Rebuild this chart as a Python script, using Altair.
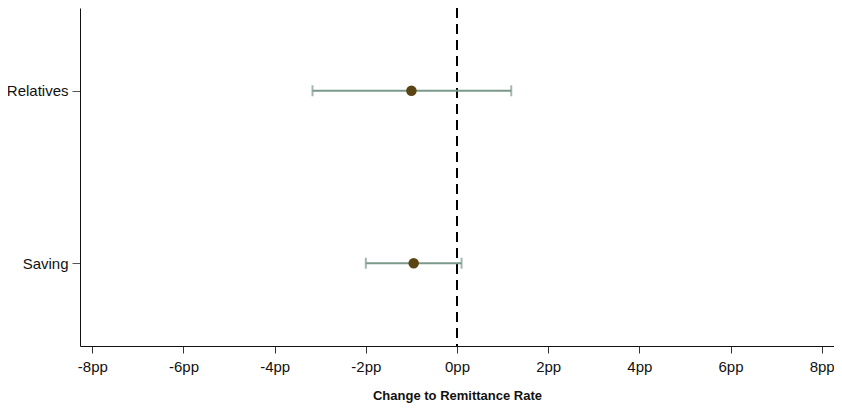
import altair as alt
import pandas as pd

categories = ["Relatives", "Saving"]
estimates = [-1.00, -0.95]
ci_low = [-3.17, -2.00]
ci_high = [1.19, 0.10]
x_ticks = [-8, -6, -4, -2, 0, 2, 4, 6, 8]

df = pd.DataFrame({"cat": categories, "est": estimates, "lo": ci_low, "hi": ci_high})
zero = pd.DataFrame({"x": [0]})

xscale = alt.Scale(domain=[-8.27, 8.27], nice=False, zero=False)
yscale = alt.Scale(type="point", domain=categories, padding=0.48)

xaxis = alt.Axis(values=x_ticks, labelExpr="datum.value + 'pp'", grid=False,
                 title="Change to Remittance Rate", titleFontWeight="bold",
                 titleFontSize=13, titleFont="Liberation Sans", titlePadding=15,
                 labelFont="Liberation Sans", labelFontSize=15, labelColor="#111",
                 tickSize=7, tickColor="#333", domainColor="#111", labelPadding=6,
                 titleColor="#111")
yaxis = alt.Axis(title=None, grid=False, labelFont="Liberation Sans", labelFontSize=15,
                 labelColor="#111", tickSize=8, tickColor="#555", domainColor="#111",
                 labelPadding=4, labelLimit=200)

base = alt.Chart(df)

ref = alt.Chart(zero).mark_rule(color="black", strokeWidth=2, strokeDash=[10, 6]).encode(
    x=alt.X("x:Q", scale=xscale, axis=xaxis)
)

bars = base.mark_rule(color="#7B998B", strokeWidth=2).encode(
    x=alt.X("lo:Q", scale=xscale, axis=xaxis),
    x2="hi:Q",
    y=alt.Y("cat:N", scale=yscale, axis=yaxis, sort=categories),
)
cap_lo = base.mark_tick(color="#7B998B", thickness=2, size=11, orient="vertical").encode(
    x=alt.X("lo:Q", scale=xscale), y=alt.Y("cat:N", scale=yscale, sort=categories)
)
cap_hi = base.mark_tick(color="#7B998B", thickness=2, size=11, orient="vertical").encode(
    x=alt.X("hi:Q", scale=xscale), y=alt.Y("cat:N", scale=yscale, sort=categories)
)
pts = base.mark_circle(color="#5B4414", opacity=1, size=110).encode(
    x=alt.X("est:Q", scale=xscale), y=alt.Y("cat:N", scale=yscale, sort=categories)
)

chart = alt.layer(ref, bars, cap_lo, cap_hi, pts).properties(
    width=754, height=338,
    autosize=alt.AutoSizeParams(type="none"),
    padding={"left": 72, "top": 0, "right": 0, "bottom": 65},
).configure(background="white").configure_view(stroke=None)

chart.save("out.html", embed_options={"renderer": "svg", "actions": False})
